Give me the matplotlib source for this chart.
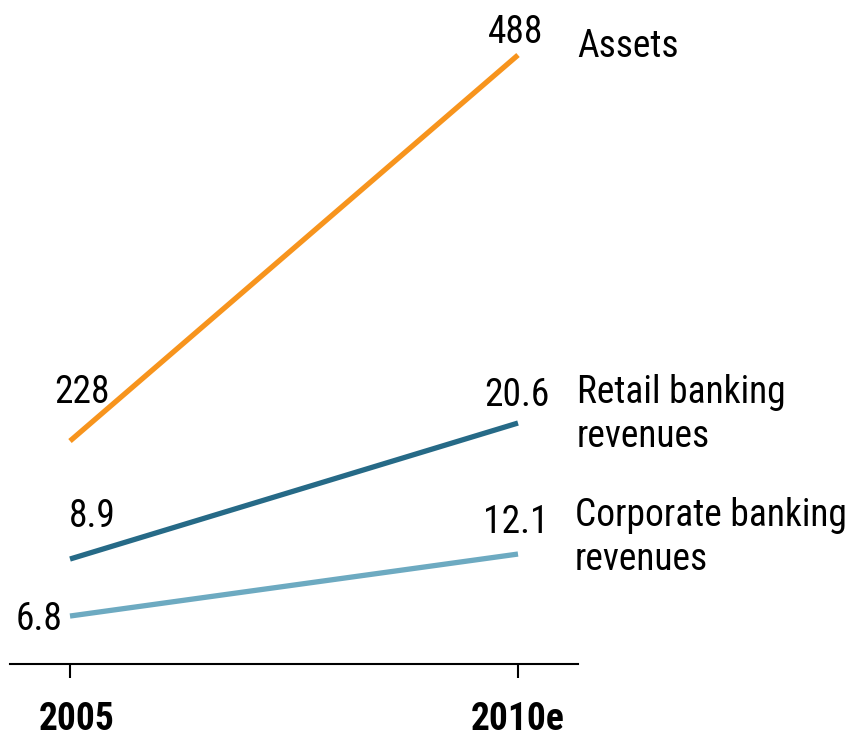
import matplotlib.pyplot as plt
from matplotlib.transforms import ScaledTranslation

plt.rcParams['font.family'] = ['Roboto Condensed', 'DejaVu Sans']

# years on the axis
years = ['2005', '2010e']

# each series: name, values, colour
series_names = ['Assets', 'Retail banking\nrevenues', 'Corporate banking\nrevenues']
assets = [228, 488]
retail = [8.9, 20.6]
corporate = [6.8, 12.1]
colors = ['#F7941D', '#266A87', '#6DAAC1']

# each line gets its own vertical scale
ylims = [(77.8, 511.6), (-0.13, 55.27), (2.70, 57.75)]
# label offsets in pixels: start label, end label, name (last line baseline)
start_off = [(12, 38, 'center'), (22, 32, 'center'), (-7, -14, 'right')]
end_off = [(-2, 12), (-1, 17), (-2, 21)]
name_off = [(59, -2), (59, -24), (57, -16)]

fs = 27
fig = plt.figure(figsize=(8.52, 7.38), dpi=100)
rect = [10 / 852, 1 - 664 / 738, 568 / 852, 644 / 738]

ax = fig.add_axes(rect)
axes = [ax, fig.add_axes(rect, sharex=ax), fig.add_axes(rect, sharex=ax)]

xs = [0, 1]
for i, (a, vals) in enumerate(zip(axes, [assets, retail, corporate])):
    a.plot(xs, vals, color=colors[i], lw=3.8, solid_capstyle='butt')
    a.set_ylim(*ylims[i])
    a.patch.set_visible(False)
    dx, dy, ha = start_off[i]
    a.annotate(f'{vals[0]:g}', (0, vals[0]), xytext=(dx, dy), textcoords='offset pixels',
               ha=ha, va='baseline', fontsize=fs)
    dx, dy = end_off[i]
    a.annotate(f'{vals[1]:g}', (1, vals[1]), xytext=(dx, dy), textcoords='offset pixels',
               ha='center', va='baseline', fontsize=fs)
    dx, dy = name_off[i]
    a.annotate(series_names[i], (1, vals[1]), xytext=(dx, dy), textcoords='offset pixels',
               ha='left', va='baseline', fontsize=fs, linespacing=1.25,
               annotation_clip=False)
    if i > 0:
        a.axis('off')

ax.set_xlim(-60 / 448, 1 + 60 / 448)
for s in ['top', 'left', 'right']:
    ax.spines[s].set_visible(False)
ax.spines['bottom'].set_linewidth(1.5)
ax.set_yticks([])
ax.set_xticks(xs)
ax.set_xticklabels(years, fontsize=fs, fontweight='bold')
ax.tick_params(axis='x', length=10, width=1.5, pad=17)
lab = ax.get_xticklabels()[0]
lab.set_transform(lab.get_transform() + ScaledTranslation(0.07, 0, fig.dpi_scale_trans))

fig.savefig('out.png', dpi=100)
